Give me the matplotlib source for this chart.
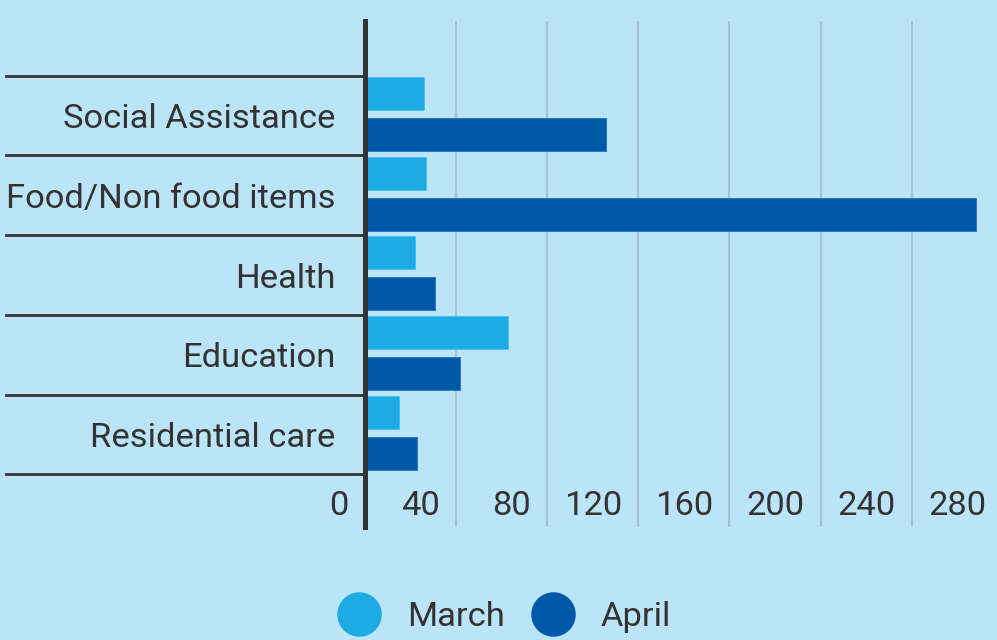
import matplotlib
matplotlib.use("Agg")
import matplotlib.pyplot as plt
import matplotlib.transforms as mtransforms
from matplotlib.lines import Line2D
import numpy as np

plt.rcParams["font.family"] = ["Roboto", "DejaVu Sans"]

# ---------------------------------------------------------------------------
categories = ["Social Assistance", "Food/Non food items", "Health",
              "Education", "Residential care"]
march = [26, 27, 22, 63, 15]
april = [106, 268, 31, 42, 23]
series_names = ["March", "April"]
xticks = [0, 40, 80, 120, 160, 200, 240, 280]

BG = "#bbe4f6"
C_MARCH = "#1cace3"
C_APRIL = "#0058a9"
TEXT = "#333333"
GRID = "#a3c3d3"
FS = 24.8

DPI = 100
W, H = 997, 640
AX_L, AX_R, AX_T, AX_B = 364.5, 997, 21, 527      # axes box in px
PX_PER_UNIT = 2.28

fig = plt.figure(figsize=(W / DPI, H / DPI), dpi=DPI, facecolor=BG)
ax = fig.add_axes([AX_L / W, 1 - AX_B / H, (AX_R - AX_L) / W, (AX_B - AX_T) / H])
ax.set_facecolor(BG)

y = np.arange(len(categories))
h = 0.414
ax.barh(y - 0.278, march, height=h, color=C_MARCH, edgecolor="#4cc0ee",
        linewidth=0.7, zorder=2)
ax.barh(y + 0.235, april, height=h, color=C_APRIL, edgecolor="#2a78c2",
        linewidth=0.7, zorder=2)

ax.set_xlim(0, (AX_R - AX_L) / PX_PER_UNIT)
ax.set_ylim(4.5 + 52.7 / 79.7, -0.5 - 54.7 / 79.7)

# vertical grid at the value ticks
for v in xticks[1:]:
    ax.axvline(v, color=GRID, lw=1.5, zorder=1)

# spines: only the dark zero line on the left
for s in ["top", "right", "bottom"]:
    ax.spines[s].set_visible(False)
ax.spines["left"].set_color(TEXT)
ax.spines["left"].set_linewidth(3.6)
ax.spines["left"].set_zorder(3)

# category labels
ax.set_yticks(y, categories)
ax.tick_params(axis="y", length=0, pad=21, labelsize=FS, labelcolor=TEXT)
ax.set_xticks([])

# value labels sit inside the plot, right-aligned just left of each gridline
lab_tr = mtransforms.offset_copy(
    mtransforms.blended_transform_factory(ax.transData, ax.transAxes),
    fig=fig, x=-16, y=0, units="dots")
for v in xticks:
    ax.text(v, (AX_B - 506) / (AX_B - AX_T), str(v), transform=lab_tr,
            ha="right", va="center", fontsize=FS, color=TEXT)

# dark separators between categories, running out to the left edge
sep_tr = mtransforms.blended_transform_factory(ax.transAxes, ax.transData)
x0 = (6 - AX_L) / (AX_R - AX_L)
for b in np.arange(len(categories) + 1) - 0.5:
    ax.add_line(Line2D([x0, 0], [b, b], transform=sep_tr, color=TEXT,
                       lw=2.0, clip_on=False, zorder=3))

# legend
handles = [Line2D([], [], ls="none", marker="o", markersize=31,
                  markerfacecolor=c, markeredgecolor=c)
           for c in (C_MARCH, C_APRIL)]
fig.legend(handles, series_names, loc="center", bbox_to_anchor=(0.506, 0.036),
           ncol=2, frameon=False, fontsize=FS, labelcolor=TEXT,
           handlelength=1.2, handletextpad=0.78, columnspacing=0.8)

fig.savefig("out.png", dpi=DPI, facecolor=BG)
